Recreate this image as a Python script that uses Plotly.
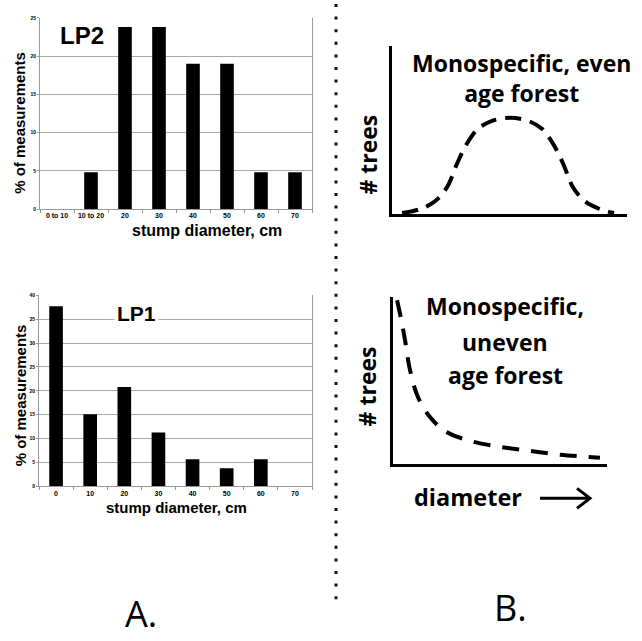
import plotly.graph_objects as go

# ---------------- data ----------------
lp2_categories = ["0 to 10", "10 to 20", "20", "30", "40", "50", "60", "70"]
lp2_values = [0, 4.8, 23.8, 23.8, 19.0, 19.0, 4.8, 4.8]

lp1_categories = ["0", "10", "20", "30", "40", "50", "60", "70"]
lp1_values = [37.7, 15.1, 20.8, 11.3, 5.7, 3.8, 5.7, 0]

# schematic curves (arbitrary 0-100 units)
even_x = [4.3, 11.9, 18.3, 23.4, 27.7, 31.9, 36.6, 42.6, 50.2, 57.9, 63.8, 68.5, 72.8, 77.0, 82.1, 88.5, 94.5]
even_y = [0.6, 2.9, 7.6, 15.9, 30.0, 41.8, 50.6, 55.3, 57.1, 55.3, 50.6, 41.8, 30.0, 15.9, 7.6, 2.9, 0.6]

uneven_x = [1.9, 3.7, 5.6, 7.9, 11.7, 17.3, 24.3, 36.0, 50.0, 64.0, 78.0, 96.7]
uneven_y = [98.2, 87.5, 74.4, 56.5, 39.9, 28.0, 19.6, 13.7, 10.1, 7.7, 5.4, 3.6]

W, H = 642, 641


def px(x):
    return x / W


def py(y):
    return 1 - y / H


ARIAL = "Liberation Sans"
CAL = "Open Sans"

fig = go.Figure()

fig.add_trace(go.Bar(x=lp2_categories, y=lp2_values, marker=dict(color="black", line=dict(width=0)),
                     width=0.4, xaxis="x", yaxis="y", showlegend=False))
fig.add_trace(go.Bar(x=lp1_categories, y=lp1_values, marker=dict(color="black", line=dict(width=0)),
                     width=0.4, xaxis="x2", yaxis="y2", showlegend=False))
fig.add_trace(go.Scatter(x=even_x, y=even_y, mode="lines", line=dict(color="black", width=4, dash="16px,9px", shape="spline"),
                         xaxis="x3", yaxis="y3", showlegend=False))
fig.add_trace(go.Scatter(x=uneven_x, y=uneven_y, mode="lines", line=dict(color="black", width=4, dash="17px,12px", shape="spline"),
                         xaxis="x4", yaxis="y4", showlegend=False))

bar_x = dict(type="category", showgrid=False, showline=True, linecolor="#999", linewidth=1,
             ticks="outside", ticklen=3, tickcolor="#999", tickson="boundaries", tickangle=0,
             tickfont=dict(family=ARIAL, size=7, color="black", weight="bold"), fixedrange=True)
bar_y = dict(showgrid=True, gridcolor="#aaa", gridwidth=1, dtick=5, showline=True, linecolor="#999",
             mirror=True, ticks="outside", ticklen=2, tickcolor="#999",
             tickfont=dict(family=ARIAL, size=5, color="black", weight="bold"), zeroline=False, fixedrange=True)

sch_axis = dict(range=[0, 100], showgrid=False, zeroline=False, showticklabels=False, ticks="",
                showline=True, linecolor="black", linewidth=3, fixedrange=True)

fig.update_layout(
    width=W, height=H, margin=dict(l=0, r=0, t=0, b=0),
    paper_bgcolor="white", plot_bgcolor="white", showlegend=False,
    xaxis=dict(bar_x, domain=[px(40), px(312)], anchor="y"),
    yaxis=dict(bar_y, domain=[py(208), py(15)], range=[0, 25], anchor="x"),
    xaxis2=dict(bar_x, domain=[px(39), px(312)], anchor="y2"),
    yaxis2=dict(bar_y, domain=[py(488), py(295)], range=[0, 40], anchor="x2"),
    xaxis3=dict(sch_axis, domain=[px(392), px(627)], anchor="y3"),
    yaxis3=dict(sch_axis, domain=[py(213), py(43)], anchor="x3"),
    xaxis4=dict(sch_axis, domain=[px(393), px(607)], anchor="y4"),
    yaxis4=dict(sch_axis, domain=[py(465), py(297)], anchor="x4"),
)

ann = []


def t(text, x, y, size, family=ARIAL, weight="bold", angle=0, xanchor="center", bg=None, color="black"):
    d = dict(text=text, x=px(x), y=py(y), xref="paper", yref="paper", showarrow=False,
             xanchor=xanchor, yanchor="middle", textangle=angle,
             font=dict(family=family, size=size, color=color, weight=weight))
    if bg:
        d["bgcolor"] = bg
        d["borderpad"] = 2
    ann.append(d)


# left charts
t("LP2", 58, 33, 24, xanchor="left")
t("% of measurements", 20, 121, 15, angle=-90)
t("stump diameter, cm", 207, 230, 16)
t("LP1", 136, 313, 21, bg="white")
t("% of measurements", 20, 396, 15, angle=-90)
t("stump diameter, cm", 177, 509, 15)

# right schematics
FS = 23
t("Monospecific, even<br>age forest", 521, 76, FS, family=CAL)
t("# trees", 368, 153, FS, family=CAL, angle=-90)
t("Monospecific,", 505, 306, FS, family=CAL)
t("uneven", 505, 342, FS, family=CAL)
t("age forest", 505, 376, FS, family=CAL)
t("# trees", 367, 387, FS, family=CAL, angle=-90)
t("diameter", 468, 499, 23.5, family=CAL)

# panel letters
t("A.", 141, 616, 36, family=CAL, weight="normal")
t("B.", 510, 610, 36, family=CAL, weight="normal")

fig.update_layout(annotations=ann)

# dotted divider
fig.add_shape(type="line", xref="paper", yref="paper", x0=px(336), x1=px(336), y0=py(1), y1=py(606),
              line=dict(color="#111", width=3, dash="3px,9.6px"))
# arrow
fig.add_shape(type="path", xref="paper", yref="paper",
              path=f"M{px(540)},{py(500)} L{px(589)},{py(500)} M{px(577)},{py(490)} L{px(590)},{py(500)} L{px(577)},{py(510)}",
              line=dict(color="black", width=3))

fig.write_html("out.html", config={"displayModeBar": False},
               post_script="document.body.style.margin='0';document.body.style.overflow='hidden';")
